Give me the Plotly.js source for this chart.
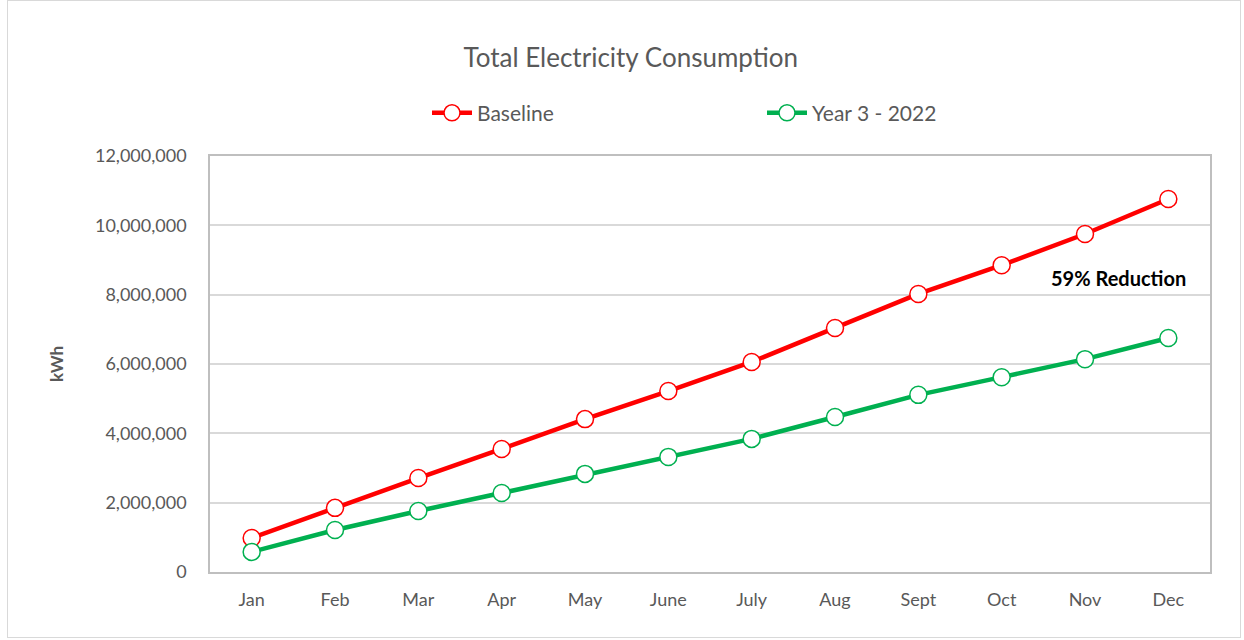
<!DOCTYPE html>
<html>
<head>
<meta charset="utf-8">
<script src="https://cdn.plot.ly/plotly-3.0.1.min.js"></script>
<style>
  html, body { margin: 0; padding: 0; background: #fff; }
  #chart { width: 1244px; height: 640px; position: relative; }
  #frame { position: absolute; left: 7px; top: 0px; width: 1232px; height: 636px; border: 1px solid #d9d9d9; pointer-events: none; }
</style>
</head>
<body>
<div id="chart"></div>
<div id="frame"></div>
<script>
const months = ['Jan', 'Feb', 'Mar', 'Apr', 'May', 'June', 'July', 'Aug', 'Sept', 'Oct', 'Nov', 'Dec'];
const baseline = [980000, 1850000, 2710000, 3550000, 4410000, 5220000, 6060000, 7040000, 8020000, 8850000, 9750000, 10760000];
const year3 = [580000, 1210000, 1760000, 2280000, 2830000, 3320000, 3840000, 4470000, 5110000, 5620000, 6140000, 6750000];
const yTicks = [0, 2000000, 4000000, 6000000, 8000000, 10000000, 12000000];

const fontFamily = 'Lato, "Open Sans", sans-serif';
const grey = '#595959';

function series(name, values, color) {
    return {
        x: months,
        y: values,
        name: name,
        type: 'scatter',
        mode: 'lines+markers',
        line: { color: color, width: 4.5 },
        marker: { symbol: 'circle', size: 17, color: '#ffffff', line: { color: color, width: 1.5 } }
    };
}

const data = [
    series('Baseline', baseline, '#ff0000'),
    series('Year 3 - 2022', year3, '#00b050')
];

const layout = {
    width: 1244,
    height: 640,
    margin: { l: 210, r: 34, t: 156, b: 68 },
    paper_bgcolor: '#ffffff',
    plot_bgcolor: '#ffffff',
    font: { family: fontFamily, color: grey, size: 18 },
    title: {
        text: 'Total Electricity Consumption',
        font: { family: fontFamily, size: 26, color: grey },
        x: 0.507, xanchor: 'center',
        y: 0.91, yanchor: 'middle'
    },
    showlegend: true,
    legend: {
        orientation: 'h',
        x: 0.217, xanchor: 'left',
        y: 1.103, yanchor: 'middle',
        entrywidth: 280,
        font: { family: fontFamily, size: 21, color: grey },
        itemwidth: 40
    },
    xaxis: {
        type: 'category',
        range: [-0.5, 11.5],
        showline: true, linecolor: '#bfbfbf', linewidth: 1.5, mirror: true,
        showgrid: false,
        ticks: '',
        tickfont: { family: fontFamily, size: 18, color: grey },
        ticklabelstandoff: 11
    },
    yaxis: {
        range: [0, 12000000],
        tickvals: yTicks,
        tickformat: ',d',
        showline: true, linecolor: '#bfbfbf', linewidth: 1.5, mirror: true,
        gridcolor: '#d9d9d9', gridwidth: 1.5,
        zeroline: false,
        ticks: '',
        tickfont: { family: fontFamily, size: 18, color: grey },
        ticklabelstandoff: 18,
        title: {
            text: '<b>kWh</b>',
            font: { family: fontFamily, size: 17, color: grey },
            standoff: 27
        }
    },
    annotations: [{
        x: 10.4, y: 8480000,
        xref: 'x', yref: 'y',
        text: '<b>59% Reduction</b>',
        showarrow: false,
        font: { family: fontFamily, size: 20, color: '#000000' }
    }]
};

Plotly.newPlot('chart', data, layout, { displayModeBar: false, responsive: false });
</script>
</body>
</html>
